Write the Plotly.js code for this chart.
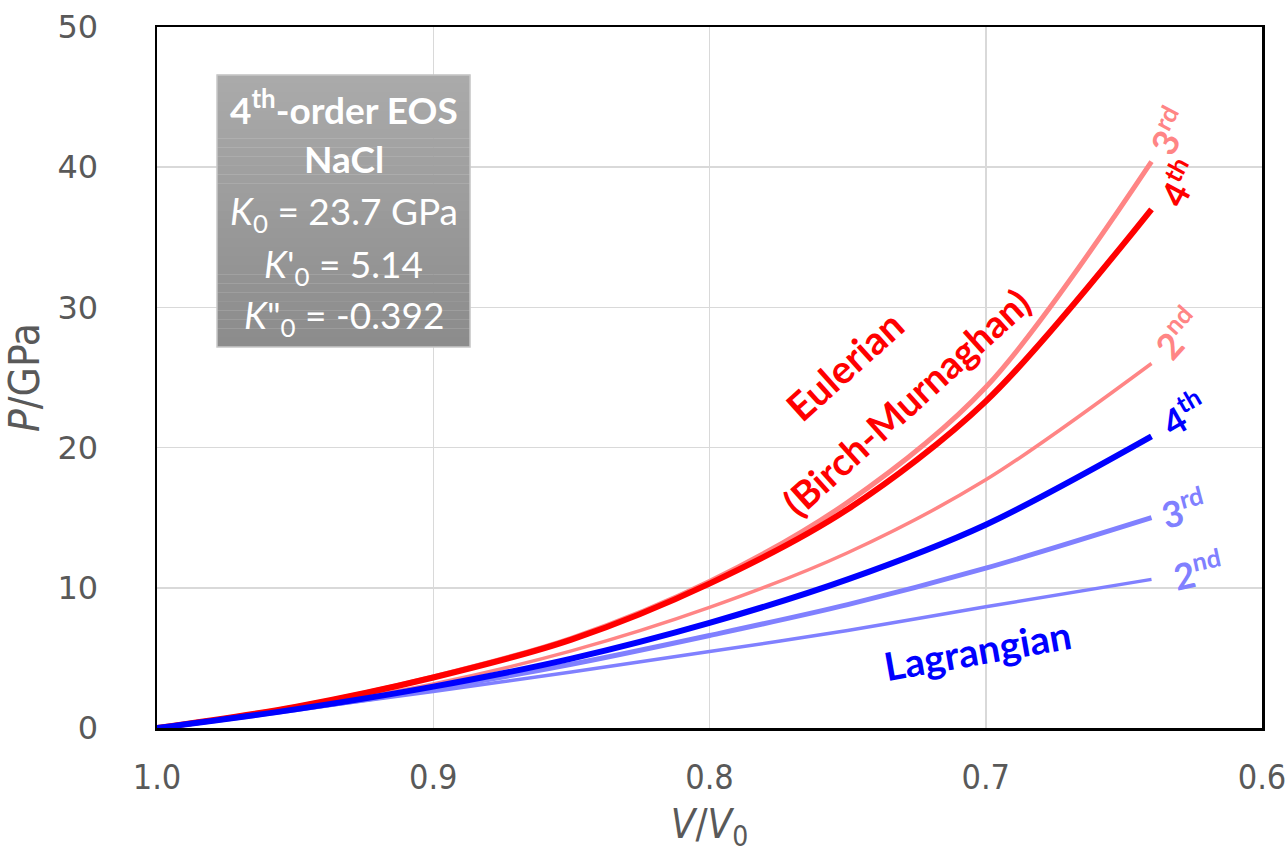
<!DOCTYPE html>
<html>
<head>
<meta charset="utf-8">
<script src="https://cdn.plot.ly/plotly-3.0.1.min.js"></script>
<style>html,body{margin:0;padding:0;background:#fff;}#chart{width:1286px;height:859px;}</style>
</head>
<body>
<div id="chart"></div>
<script>
// V/V0 sample points
const vRatio = [1.0, 0.95, 0.9, 0.85, 0.8, 0.75, 0.7, 0.64];
// Eulerian (Birch-Murnaghan) pressures, GPa
const eulerian2nd = [0, 1.42, 3.15, 5.5, 8.6, 12.5, 17.7, 26.0];
const eulerian3rd = [0, 1.5, 3.65, 6.4, 10.45, 16.1, 24.3, 40.4];
const eulerian4th = [0, 1.5, 3.6, 6.3, 10.3, 15.6, 23.3, 37.0];
// Lagrangian pressures, GPa
const lagrangian2nd = [0, 1.28, 2.6, 4.0, 5.45, 6.95, 8.65, 10.6];
const lagrangian3rd = [0, 1.3, 2.8, 4.55, 6.6, 8.8, 11.4, 15.0];
const lagrangian4th = [0, 1.33, 2.95, 4.95, 7.5, 10.6, 14.5, 20.8];

const xTicks = [1.0, 0.9, 0.8, 0.7, 0.6];
const xTickText = ['1.0', '0.9', '0.8', '0.7', '0.6'];
const yTicks = [0, 10, 20, 30, 40, 50];

const FONT = 'Lato, "Open Sans", sans-serif';
const NARROW = '"DejaVu Sans Condensed", "Liberation Sans Narrow", Lato, sans-serif';
const WIDE = '"DejaVu Sans", Lato, sans-serif';
const RED = '#ff0000', PINK = '#ff8585', BLUE = '#0000ff', LAV = '#8080ff';

function tr(y, color, width) {
  return {x: vRatio, y: y, type: 'scatter', mode: 'lines',
    line: {color: color, width: width, shape: 'spline', smoothing: 0.9},
    hoverinfo: 'skip', showlegend: false};
}

const data = [
  tr(lagrangian2nd, LAV, 3.5),
  tr(lagrangian3rd, LAV, 5),
  tr(eulerian2nd, PINK, 3.5),
  tr(eulerian3rd, PINK, 5),
  tr(eulerian4th, RED, 6),
  tr(lagrangian4th, BLUE, 6)
];

// gradient box
const shapes = [];
const bx0 = 0.0543, bx1 = 0.2833, by0 = 0.5435, by1 = 0.9315;
const nStrips = 30;
for (let i = 0; i < nStrips; i++) {
  const t = i / (nStrips - 1);
  const c = Math.round(170 - t * 30);
  shapes.push({type: 'rect', xref: 'paper', yref: 'paper', layer: 'above',
    x0: bx0, x1: bx1,
    y0: by1 - (by1 - by0) * (i + 1) / nStrips, y1: by1 - (by1 - by0) * i / nStrips + 0.0005,
    fillcolor: `rgb(${c},${c},${c})`, line: {width: 0}});
}
shapes.push({type: 'rect', xref: 'paper', yref: 'paper', layer: 'above',
  x0: bx0, x1: bx1, y0: by0, y1: by1, fillcolor: 'rgba(0,0,0,0)',
  line: {color: '#c8c8c8', width: 1.5}});

function boxLine(text, y) {
  return {xref: 'paper', yref: 'paper', x: 0.1688, y: y, text: text, showarrow: false,
    xanchor: 'center', yanchor: 'middle',
    font: {family: FONT, size: 37, color: '#ffffff'}};
}
function lab(text, x, y, angle, color, size) {
  return {xref: 'x', yref: 'y', x: x, y: y, text: text, showarrow: false,
    textangle: angle, xanchor: 'center', yanchor: 'middle',
    font: {family: FONT, size: size, color: color, weight: 'bold'}};
}

const annotations = [
  boxLine('<b>4<sup>th</sup>-order EOS</b>', 0.8865),
  boxLine('<b>NaCl</b>', 0.8125),
  boxLine('<i>K</i><sub>0</sub> = 23.7 GPa', 0.7345),
  boxLine('<i>K</i>\'<sub>0</sub> = 5.14', 0.659),
  boxLine('<i>K</i>"<sub>0</sub> = -0.392', 0.585),
  lab('Eulerian', 0.751, 25.9, -42, RED, 39),
  lab('(Birch-Murnaghan)', 0.729, 23.25, -42, RED, 38),
  lab('3<sup>rd</sup>', 0.634, 42.6, -62, PINK, 36),
  lab('4<sup>th</sup>', 0.6304, 38.9, -62, RED, 36),
  lab('2<sup>nd</sup>', 0.6308, 28.2, -48, PINK, 36),
  lab('4<sup>th</sup>', 0.6286, 22.5, -30, BLUE, 36),
  lab('3<sup>rd</sup>', 0.6286, 15.7, -15, LAV, 36),
  lab('2<sup>nd</sup>', 0.6235, 11.3, -12, LAV, 36),
  lab('Lagrangian', 0.703, 5.56, -10, BLUE, 39)
];

const layout = {
  width: 1286, height: 859,
  margin: {l: 157, r: 24, t: 27, b: 131},
  paper_bgcolor: '#ffffff', plot_bgcolor: '#ffffff',
  showlegend: false,
  font: {family: FONT, color: '#595959'},
  xaxis: {
    range: [1.0, 0.6], tickvals: xTicks, ticktext: xTickText,
    showgrid: true, gridcolor: '#d9d9d9', gridwidth: 1.5, zeroline: false,
    showline: true, mirror: true, linecolor: '#000000', linewidth: 2.5,
    ticks: '', ticklabelstandoff: 18, ticklabeloverflow: 'allow',
    tickfont: {family: NARROW, size: 34, color: '#595959'},
    title: {text: '<i>V</i>/<i>V</i><sub>0</sub>', font: {family: NARROW, size: 40, color: '#595959'}, standoff: 14}
  },
  yaxis: {
    range: [0, 50], tickvals: yTicks,
    showgrid: true, gridcolor: '#d9d9d9', gridwidth: 1.5, zeroline: false,
    showline: true, mirror: true, linecolor: '#000000', linewidth: 2.5,
    ticks: '', ticklabelstandoff: 50,
    tickfont: {family: WIDE, size: 32, color: '#595959'},
    title: {text: '<i>P</i>/GPa', font: {family: NARROW, size: 42, color: '#595959'}, standoff: 14}
  },
  shapes: shapes,
  annotations: annotations
};

Plotly.newPlot('chart', data, layout, {displayModeBar: false, staticPlot: true});
</script>
</body>
</html>
